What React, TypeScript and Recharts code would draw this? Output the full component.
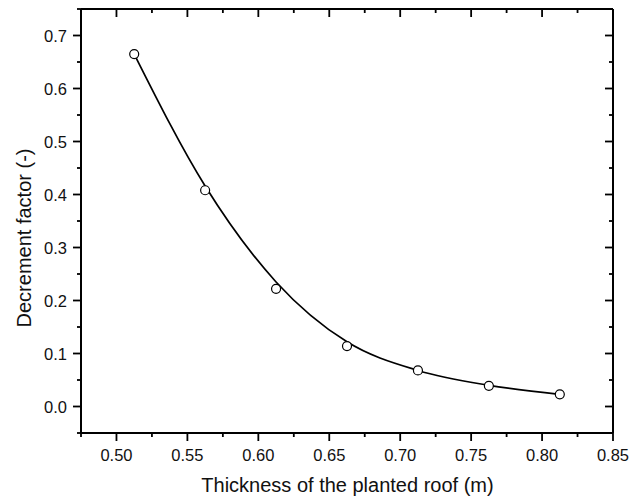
import React from "react";
import { ComposedChart, Line, Scatter, XAxis, YAxis } from "recharts";

// thickness of the planted roof (m)
const thickness = [0.5125, 0.5625, 0.6125, 0.6625, 0.7125, 0.7625, 0.8125];
// measured decrement factor (open circles)
const measured = [0.665, 0.408, 0.222, 0.114, 0.068, 0.039, 0.023];
// fitted curve, read at the same thicknesses
const fitted = [0.665, 0.416, 0.235, 0.122, 0.068, 0.04, 0.023];

const xTicks = [0.475, 0.5, 0.525, 0.55, 0.575, 0.6, 0.625, 0.65, 0.675, 0.7, 0.725, 0.75, 0.775, 0.8, 0.825, 0.85];
const yTicks = [-0.05, 0, 0.05, 0.1, 0.15, 0.2, 0.25, 0.3, 0.35, 0.4, 0.45, 0.5, 0.55, 0.6, 0.65, 0.7, 0.75];

const FONT = "Arial, 'Liberation Sans', sans-serif";
const INK = "#000";

const data = thickness.map((x, i) => ({ x, measured: measured[i], fit: fitted[i] }));

const majorX = (v: number) => Math.round(v * 1000) % 50 === 0;
const majorY = (v: number) => Math.round(v * 1000) % 100 === 0;

function BottomTick({ x, y, payload }: any) {
  const major = majorX(payload.value);
  return (
    <g>
      <line x1={x} x2={x} y1={y} y2={y + (major ? 8 : 4)} stroke={INK} strokeWidth={1.8} />
      {major && (
        <text x={x} y={y + 28} textAnchor="middle" fontSize={16.5} fontFamily={FONT} fill="#111">
          {payload.value.toFixed(2)}
        </text>
      )}
    </g>
  );
}

function TopTick({ x, y, payload }: any) {
  const major = majorX(payload.value);
  return <line x1={x} x2={x} y1={y} y2={y + (major ? 8 : 4)} stroke={INK} strokeWidth={1.8} />;
}

function LeftTick({ x, y, payload }: any) {
  const major = majorY(payload.value);
  return (
    <g>
      <line x1={x} x2={x - (major ? 8 : 4)} y1={y} y2={y} stroke={INK} strokeWidth={1.8} />
      {major && (
        <text x={x - 14} y={y + 6} textAnchor="end" fontSize={16.5} fontFamily={FONT} fill="#111">
          {payload.value.toFixed(1)}
        </text>
      )}
    </g>
  );
}

function RightTick({ x, y, payload }: any) {
  const major = majorY(payload.value);
  return <line x1={x} x2={x - (major ? 8 : 4)} y1={y} y2={y} stroke={INK} strokeWidth={1.8} />;
}

function OpenCircle({ cx, cy }: any) {
  return <circle cx={cx} cy={cy} r={4.5} fill="#fff" stroke={INK} strokeWidth={1.2} />;
}

export default function App() {
  return (
    <div style={{ position: "absolute", left: 0, top: 0, background: "#fff" }}>
      <ComposedChart width={630} height={501} data={data} margin={{ top: 8, right: 16, bottom: 0, left: 0 }}>
        <XAxis
          xAxisId={0}
          dataKey="x"
          type="number"
          domain={[0.475, 0.85]}
          ticks={xTicks}
          interval={0}
          allowDataOverflow
          height={68}
          tickSize={0}
          tickMargin={0}
          tickLine={false}
          axisLine={{ stroke: INK, strokeWidth: 2 }}
          tick={<BottomTick />}
          label={() => (
            <text x={347.5} y={492} textAnchor="middle" fontSize={20} fontFamily={FONT} fill="#111">
              Thickness of the planted roof (m)
            </text>
          )}
        />
        <XAxis
          xAxisId="top"
          orientation="top"
          dataKey="x"
          type="number"
          domain={[0.475, 0.85]}
          ticks={xTicks}
          interval={0}
          allowDataOverflow
          height={1}
          tickSize={0}
          tickMargin={0}
          tickLine={false}
          axisLine={{ stroke: INK, strokeWidth: 2 }}
          tick={<TopTick />}
        />
        <YAxis
          yAxisId={0}
          type="number"
          domain={[-0.05, 0.75]}
          ticks={yTicks}
          interval={0}
          allowDataOverflow
          width={81}
          tickSize={0}
          tickMargin={0}
          tickLine={false}
          axisLine={{ stroke: INK, strokeWidth: 2 }}
          tick={<LeftTick />}
          label={() => (
            <text
              x={31}
              y={238}
              transform="rotate(-90 31 238)"
              textAnchor="middle"
              fontSize={20}
              fontFamily={FONT}
              fill="#111"
            >
              Decrement factor (-)
            </text>
          )}
        />
        <YAxis
          yAxisId="right"
          orientation="right"
          type="number"
          domain={[-0.05, 0.75]}
          ticks={yTicks}
          interval={0}
          allowDataOverflow
          width={1}
          tickSize={0}
          tickMargin={0}
          tickLine={false}
          axisLine={{ stroke: INK, strokeWidth: 2 }}
          tick={<RightTick />}
        />
        <Line
          xAxisId={0}
          yAxisId={0}
          type="monotone"
          dataKey="fit"
          stroke={INK}
          strokeWidth={1.7}
          dot={false}
          activeDot={false}
          isAnimationActive={false}
        />
        <Scatter
          xAxisId={0}
          yAxisId={0}
          dataKey="measured"
          shape={<OpenCircle />}
          isAnimationActive={false}
        />
      </ComposedChart>
    </div>
  );
}
